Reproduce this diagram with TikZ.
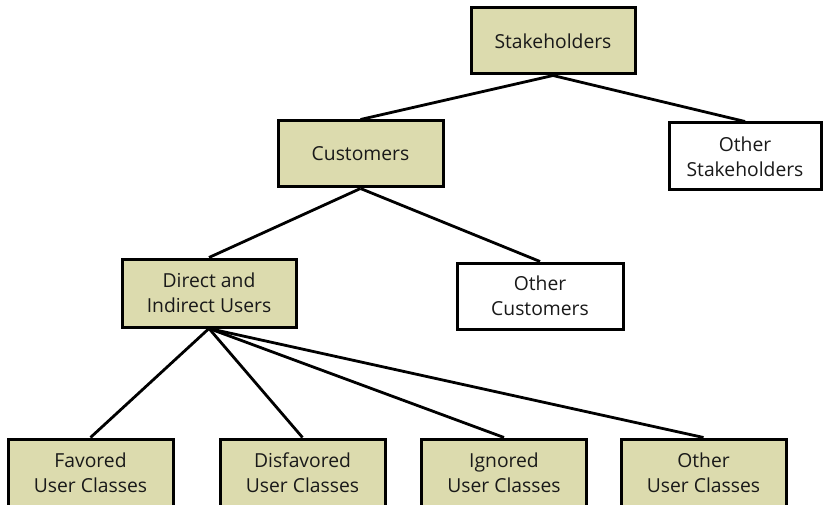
\documentclass[tikz,border=0pt]{standalone}
\usepackage{fontspec}
\setmainfont{Open Sans}
\definecolor{boxfill}{HTML}{DCDBAE}
\tikzset{
  base/.style={draw=black, line width=3pt, rectangle, inner sep=0pt, align=center,
    font=\fontsize{19.3}{25}\selectfont, text=black!90},
  filled/.style={base, fill=boxfill},
  plain/.style={base, fill=white},
  link/.style={line width=2.8pt, black}
}
\begin{document}
\begin{tikzpicture}[x=1pt,y=-1pt]
\useasboundingbox (0,0) rectangle (824,505);
\node[filled, minimum width=164pt, minimum height=66pt] (stake) at (553,41) {Stakeholders};
\node[filled, minimum width=165pt, minimum height=66pt] (cust) at (360.5,154) {Customers};
\node[plain, minimum width=152pt, minimum height=67pt] (ostake) at (745,156.5) {Other\\Stakeholders};
\node[filled, minimum width=174pt, minimum height=68pt] (direct) at (209,293) {Direct and\\Indirect Users};
\node[plain, minimum width=166pt, minimum height=66pt] (ocust) at (540,296) {Other\\Customers};
\node[filled, minimum width=165pt, minimum height=67pt] (fav) at (90.5,472.5) {Favored\\User Classes};
\node[filled, minimum width=165pt, minimum height=67pt] (disfav) at (302.5,472.5) {Disfavored\\User Classes};
\node[filled, minimum width=165pt, minimum height=67pt] (ign) at (504,472.5) {Ignored\\User Classes};
\node[filled, minimum width=165pt, minimum height=67pt] (oth) at (703.5,472.5) {Other\\User Classes};
\draw[link] (stake.south) -- (cust.north);
\draw[link] (stake.south) -- (ostake.north);
\draw[link] (cust.south) -- (direct.north);
\draw[link] (cust.south) -- (ocust.north);
\draw[link] (direct.south) -- (fav.north);
\draw[link] (direct.south) -- (disfav.north);
\draw[link] (direct.south) -- (ign.north);
\draw[link] (direct.south) -- (oth.north);
\end{tikzpicture}
\end{document}
